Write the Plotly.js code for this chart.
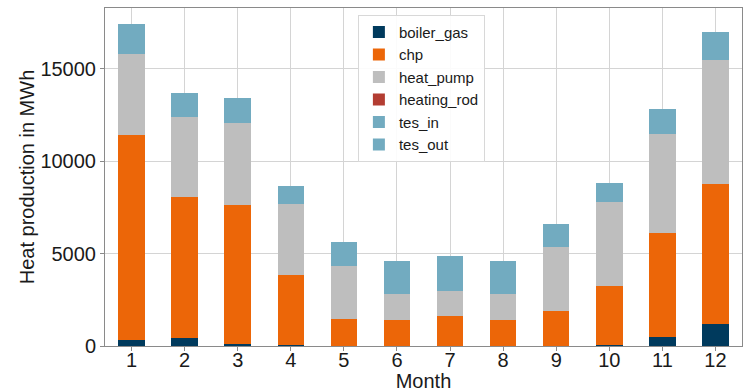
<!DOCTYPE html>
<html>
<head>
<meta charset="utf-8">
<script src="https://cdn.plot.ly/plotly-3.0.1.min.js"></script>
<style>html,body{margin:0;padding:0;background:#fff}#chart{width:743px;height:392px}</style>
</head>
<body>
<div id="chart"></div>
<script>
const months = [1,2,3,4,5,6,7,8,9,10,11,12];
const boiler_gas  = [300, 420, 90, 40, 0, 0, 0, 0, 0, 70, 470, 1170];
const chp         = [11100, 7640, 7520, 3820, 1460, 1430, 1610, 1390, 1880, 3160, 5640, 7610];
const heat_pump   = [4380, 4300, 4420, 3800, 2850, 1370, 1340, 1410, 3460, 4560, 5340, 6660];
const heating_rod = [0,0,0,0,0,0,0,0,0,0,0,0];
const tes_in      = [0,0,0,0,0,0,0,0,0,0,0,0];
const tes_out     = [1610, 1330, 1370, 980, 1320, 1770, 1910, 1820, 1230, 1000, 1350, 1510];
const yTicks = [0, 5000, 10000, 15000];

const series = [
  {name:'boiler_gas', y:boiler_gas, color:'#003A5D'},
  {name:'chp', y:chp, color:'#EC6608'},
  {name:'heat_pump', y:heat_pump, color:'#BEBEBE'},
  {name:'heating_rod', y:heating_rod, color:'#B33D32'},
  {name:'tes_in', y:tes_in, color:'#72ABC0'},
  {name:'tes_out', y:tes_out, color:'#72ABC0'}
];

const data = series.map(s => ({
  type:'bar', name:s.name, x:months, y:s.y,
  marker:{color:s.color, line:{width:0}},
  hoverinfo:'name+y'
}));

const font = {family:'"Liberation Sans", Arial, sans-serif', color:'#1a1a1a'};

const layout = {
  width:743, height:392,
  margin:{l:105, r:1, t:8, b:46, pad:0},
  barmode:'stack', bargap:0.5,
  paper_bgcolor:'#fff', plot_bgcolor:'#fff',
  font:Object.assign({size:20}, font),
  showlegend:true,
  legend:{
    x:0.397, y:0.98, xanchor:'left', yanchor:'top',
    bgcolor:'rgba(255,255,255,0.9)', bordercolor:'#d8d8d8', borderwidth:1,
    font:Object.assign({size:15}, font),
    traceorder:'normal', tracegroupgap:0, itemwidth:30
  },
  xaxis:{
    range:[0.5, 12.5], tickmode:'array', tickvals:months, ticktext:months.map(String),
    showgrid:true, gridcolor:'#d4d4d4', gridwidth:1,
    showline:true, linecolor:'#8a8a8a', linewidth:1, mirror:true,
    ticks:'outside', ticklen:4, tickcolor:'#8a8a8a', ticklabelstandoff:-8,
    tickfont:Object.assign({size:20}, font),
    title:{text:'Month', font:Object.assign({size:20}, font), standoff:2},
    automargin:false, zeroline:false
  },
  yaxis:{
    range:[0, 18270], tickmode:'array', tickvals:yTicks, ticktext:yTicks.map(String),
    showgrid:true, gridcolor:'#d4d4d4', gridwidth:1,
    showline:true, linecolor:'#8a8a8a', linewidth:1, mirror:true,
    ticks:'outside', ticklen:4, tickcolor:'#8a8a8a',
    tickfont:Object.assign({size:20}, font),
    title:{text:'Heat production in MWh', font:Object.assign({size:20}, font), standoff:0},
    automargin:false, zeroline:false
  }
};

Plotly.newPlot('chart', data, layout, {displayModeBar:false, staticPlot:true});
</script>
</body>
</html>
